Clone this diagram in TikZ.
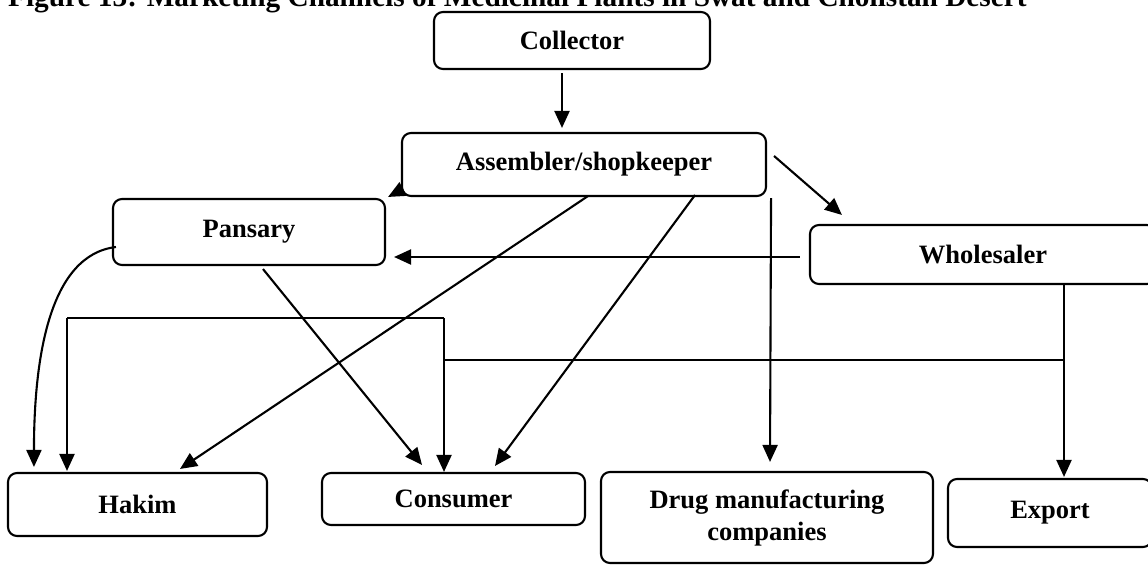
\documentclass[tikz,border=0pt]{standalone}
\usepackage{fontspec}
\setmainfont{Liberation Serif}
\usetikzlibrary{arrows.meta,calc}
\tikzset{
  box/.style={draw, line width=2.1pt, rounded corners=9pt, inner sep=0pt,
    font=\fontsize{26.5}{32}\selectfont\bfseries, align=center},
  ln/.style={line width=2.1pt},
  arr/.style={ln, -{Triangle[length=17pt,width=15pt]}}
}
\begin{document}
\begin{tikzpicture}[x=1pt,y=-1pt]
\useasboundingbox (0,0) rectangle (1148,565);
\fill[white] (0,0) rectangle (1148,565);
\node[anchor=base west, inner sep=0pt, font=\fontsize{29.3}{34}\selectfont\bfseries] (title) at (8,6) {Figure 13: Marketing Channels of Medicinal Plants in Swat and Cholistan Desert};

\node[box, minimum width=276pt, minimum height=57pt] (coll) at (572,40.5) {Collector};
\node[box, minimum width=364pt, minimum height=63pt] (asm) at (584,164.5) {Assembler/shopkeeper};
\node[box, minimum width=272pt, minimum height=66pt] (pan) at (249,232) {Pansary};
\node[box, minimum width=346pt, minimum height=59pt] (wh) at (983,254.5) {Wholesaler};
\node[box, minimum width=259pt, minimum height=63pt] (hak) at (137.5,504.5) {Hakim};
\node[box, minimum width=263pt, minimum height=52pt] (con) at (453.5,499) {Consumer};
\node[box, minimum width=332pt, minimum height=91pt] (drug) at (767,517.5) {Drug manufacturing\\companies};
\node[box, minimum width=204pt, minimum height=68pt] (exp) at (1050,513) {Export};

% Collector -> Assembler
\draw[arr] ($(coll.south)+(-10,3)$) -- ($(asm.north)+(-22,-4)$);
% Assembler -> Wholesaler
\draw[arr] ($(asm.east)+(7,-8.5)$) -- ($(wh.north west)+(33,-9)$);
% Assembler -> Pansary
\draw[arr] ($(asm.south west)+(2,-8)$) -- ($(pan.north east)+(2,-1)$);
% Assembler -> Hakim
\draw[arr] ($(asm.south)+(4,-1)$) -- ($(hak.north)+(42.5,-3)$);
% Assembler -> Consumer
\draw[arr] ($(asm.south)+(111,-2)$) -- ($(con.north)+(41.5,-6)$);
% Assembler -> Drug manufacturing companies
\draw[arr] ($(asm.south east)+(4,1)$) -- ($(drug.north)+(3,-9)$);
% Wholesaler -> Pansary
\draw[arr] ($(wh.west)+(-9,2.5)$) -- ($(pan.east)+(8,25)$);
% Pansary -> Hakim (curved)
\draw[arr] ($(pan.west)+(4,15)$) .. controls ($(pan.west)+(-63,23)$) and ($(hak.north west)+(27,-113)$) .. ($(hak.north west)+(27,-5)$);
% Pansary -> Consumer
\draw[arr] ($(pan.south)+(14,3)$) -- ($(con.north)+(-31.5,-7)$);
% Wholesaler -> Export
\draw[arr] ($(wh.south)+(81,0)$) -- ($(exp.north)+(14,-1)$);
% Wholesaler -> Consumer / Hakim
\coordinate (wj) at ($(wh.south)+(81,75)$);
\coordinate (ct) at ($(con.north)+(-9.5,-154)$);
\coordinate (hj) at ($(hak.north)+(-70.5,-154)$);
\draw[ln] (wj) -- (ct |- wj);
\draw[arr] (ct) -- ($(con.north)+(-9.5,0)$);
\draw[ln] (ct) -- (hj);
\draw[arr] (hj) -- ($(hak.north)+(-70.5,-1)$);
\end{tikzpicture}
\end{document}
